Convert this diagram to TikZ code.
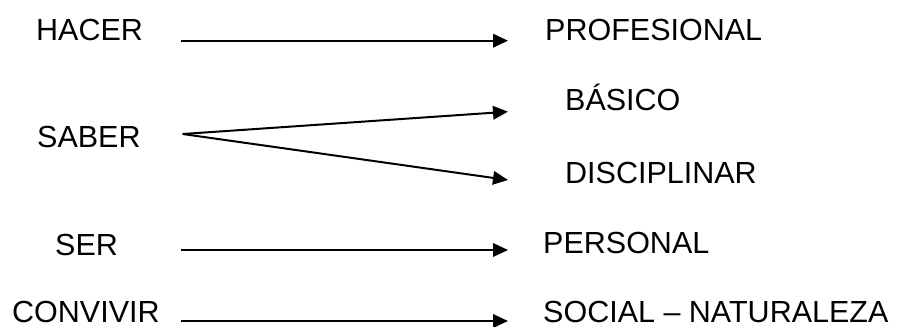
\documentclass[tikz,border=0pt]{standalone}
\usepackage{fontspec}
\setmainfont{Liberation Sans}
\usetikzlibrary{arrows.meta}
\begin{document}
\begin{tikzpicture}[x=1pt,y=-1pt,
  word/.style={inner sep=0pt,anchor=base west,font=\fontsize{30.5}{36}\selectfont},
  link/.style={line width=2pt,-{Triangle[length=15pt,width=13.5pt]}}]
\useasboundingbox (0,0) rectangle (898,327);
% left column
\node[word] (hacer) at (36,40) {HACER};
\node[word] (saber) at (37,147) {SABER};
\node[word] (ser) at (55,255) {SER};
\node[word] (convivir) at (12,322.5) {CONVIVIR};
% right column
\node[word] (prof) at (545,40) {PROFESIONAL};
\node[word] (basico) at (565,110) {BÁSICO};
\node[word] (disc) at (565,183) {DISCIPLINAR};
\node[word] (pers) at (543,253) {PERSONAL};
\node[word] (social) at (543,322.5) {SOCIAL – NATURALEZA};
% connector ends
\coordinate (hacerOut) at (181,40.7);
\coordinate (saberOut) at (182.7,134);
\coordinate (serOut) at (181,250);
\coordinate (convOut) at (181,321);
\coordinate (profIn) at (508,40.7);
\coordinate (basIn) at (508,111.7);
\coordinate (discIn) at (508,180);
\coordinate (persIn) at (508,250);
\coordinate (socIn) at (508,321);
% connectors
\draw[link] (hacerOut) -- (profIn);
\draw[link] (saberOut) -- (basIn);
\draw[link] (saberOut) -- (discIn);
\draw[link] (serOut) -- (persIn);
\draw[link] (convOut) -- (socIn);
\end{tikzpicture}
\end{document}
